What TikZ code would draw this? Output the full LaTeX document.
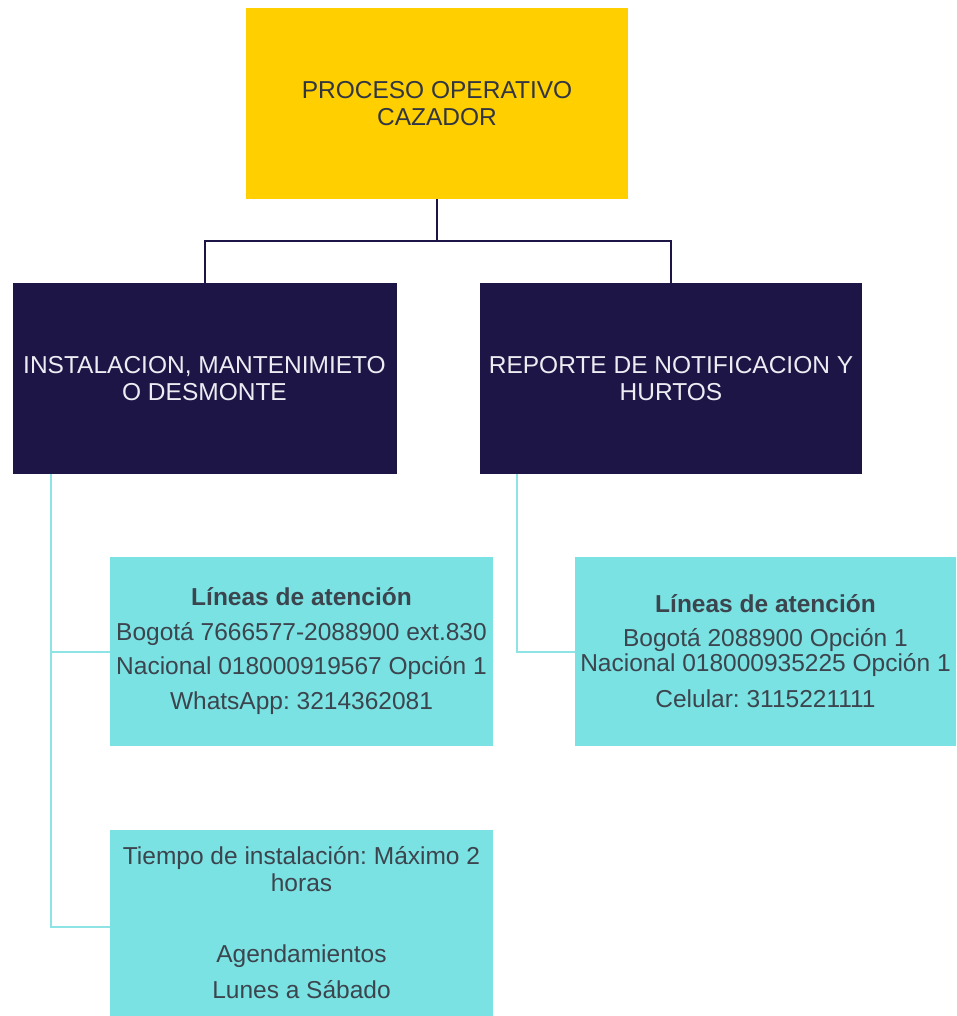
\documentclass[tikz,border=0pt]{standalone}
\usepackage{fontspec}
\setmainfont{Liberation Sans}
\frenchspacing
\definecolor{ybox}{RGB}{255,207,0}
\definecolor{nbox}{RGB}{28,21,69}
\definecolor{cbox}{RGB}{122,226,226}
\definecolor{cline}{RGB}{142,228,228}
\definecolor{dtext}{RGB}{50,54,66}
\definecolor{ctext}{RGB}{60,68,78}
\definecolor{wtext}{RGB}{236,236,242}
\tikzset{
  boxbase/.style={rectangle, inner sep=0pt, align=center,
    font=\fontsize{24.5}{27}\selectfont},
  titlebox/.style={boxbase, fill=ybox, text=dtext, minimum width=382pt, minimum height=191pt},
  navybox/.style={boxbase, fill=nbox, text=wtext, minimum width=384pt, minimum height=191pt},
  cyanbox/.style={boxbase, fill=cbox, text=ctext, minimum width=383pt, minimum height=189pt},
  navyline/.style={draw=nbox, line width=2pt},
  cyanline/.style={draw=cline, line width=2pt},
}
\begin{document}
\begin{tikzpicture}[x=1pt,y=-1pt]
\useasboundingbox[fill=white] (0,0) rectangle (956,1016);
\node[titlebox] (top) at (437,103.5) {PROCESO OPERATIVO\\CAZADOR};
\node[navybox] (left) at (204.5,378.5) {INSTALACION, MANTENIMIETO\\O DESMONTE};
\node[navybox, minimum width=382pt] (right) at (671,378.5) {REPORTE DE NOTIFICACION Y\\HURTOS};
\node[cyanbox] (info1) at (301.5,651.5) {\textbf{Líneas de atención}\\[8pt]Bogotá 7666577-2088900 ext.830\\[7pt]Nacional 018000919567 Opción 1\\[8pt]WhatsApp: 3214362081};
\node[cyanbox, minimum width=381pt] (info2) at (765.5,651.5) {\textbf{Líneas de atención}\\[7pt]Bogotá 2088900 Opción 1\\[-2pt]Nacional 018000935225 Opción 1\\[9pt]Celular: 3115221111};
\node[cyanbox, minimum height=186pt] (sched) at (301.5,923) {Tiempo de instalación: Máximo 2\\horas\\[44pt]Agendamientos\\[9pt]Lunes a Sábado};
\coordinate (bus) at (437,241);
\coordinate (lsp) at (51,0);
\coordinate (rsp) at (517,0);
\draw[navyline] (top.south) -- (bus);
\draw[navyline] (bus) -| (left.north);
\draw[navyline] (bus) -| (right.north);
\draw[cyanline] (left.south -| lsp) |- (info1.west);
\draw[cyanline] (left.south -| lsp) |- ([yshift=-4pt]sched.west);
\draw[cyanline] (right.south -| rsp) |- (info2.west);
\end{tikzpicture}
\end{document}
